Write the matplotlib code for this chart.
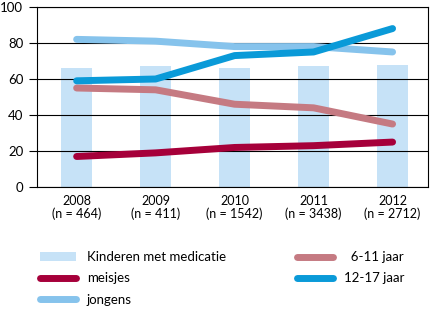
import matplotlib
matplotlib.use('Agg')
import matplotlib.pyplot as plt
import numpy as np
from matplotlib.patches import Patch
from matplotlib.lines import Line2D

# ── Data ──────────────────────────────────────────────────────────
years = ['2008', '2009', '2010', '2011', '2012']
n_counts = ['464', '411', '1542', '3438', '2712']
medicatie = [66, 67, 66, 67, 68]
meisjes = [17, 19, 22, 23, 25]
jongens = [82, 81, 78, 78, 75]
jaar_6_11 = [55, 54, 46, 44, 35]
jaar_12_17 = [59, 60, 73, 75, 88]
yticks = [0, 20, 40, 60, 80, 100]

# ── Colors ────────────────────────────────────────────────────────
bar_color = '#c6e2f7'
meisjes_color = '#a6003a'
jongens_color = '#86c3ec'
c611_color = '#c57a82'
c1217_color = '#0a9ad8'

plt.rcParams['font.family'] = ['Lato', 'DejaVu Sans']

fig = plt.figure(figsize=(4.32, 3.30), dpi=100)
ax = fig.add_axes([0.086, 0.433, 0.905, 0.546])

x = np.arange(len(years))
lw = 5

ax.bar(x, medicatie, width=0.4, color=bar_color, zorder=1)
ax.plot(x, jongens, color=jongens_color, lw=lw, solid_capstyle='round', zorder=3)
ax.plot(x, jaar_6_11, color=c611_color, lw=lw, solid_capstyle='round', zorder=3)
ax.plot(x, meisjes, color=meisjes_color, lw=lw, solid_capstyle='round', zorder=3)
ax.plot(x, jaar_12_17, color=c1217_color, lw=lw, solid_capstyle='round', zorder=4)

ax.set_xlim(-0.5, 4.45)
ax.set_ylim(0, 100)
ax.set_yticks(yticks)
ax.set_yticklabels([str(t) for t in yticks], fontsize=9.5)
ax.grid(axis='y', color='black', linewidth=0.8, zorder=2)
ax.set_axisbelow(False)
ax.tick_params(axis='y', length=6, width=0.8, pad=4)
ax.set_xticks(x)
ax.set_xticklabels([f'{y}\n(n = {n})' for y, n in zip(years, n_counts)],
                   fontsize=9, linespacing=1.0)
ax.tick_params(axis='x', length=0, pad=6)
for s in ax.spines.values():
    s.set_linewidth(0.8)

handles = [
    Patch(facecolor=bar_color, edgecolor='none', label='Kinderen met medicatie'),
    Line2D([], [], color=meisjes_color, lw=lw, solid_capstyle='round', label='meisjes'),
    Line2D([], [], color=jongens_color, lw=lw, solid_capstyle='round', label='jongens'),
    Line2D([], [], color=c611_color, lw=lw, solid_capstyle='round', label='  6-11 jaar'),
    Line2D([], [], color=c1217_color, lw=lw, solid_capstyle='round', label='12-17 jaar'),
]
fig.legend(handles=handles, ncol=2, loc='upper left', bbox_to_anchor=(0.065, 0.275),
           frameon=False, fontsize=9.5, handlelength=2.7, handleheight=0.6,
           columnspacing=5.4, labelspacing=0.7, handletextpad=0.85)

fig.savefig('out.png', dpi=100)
